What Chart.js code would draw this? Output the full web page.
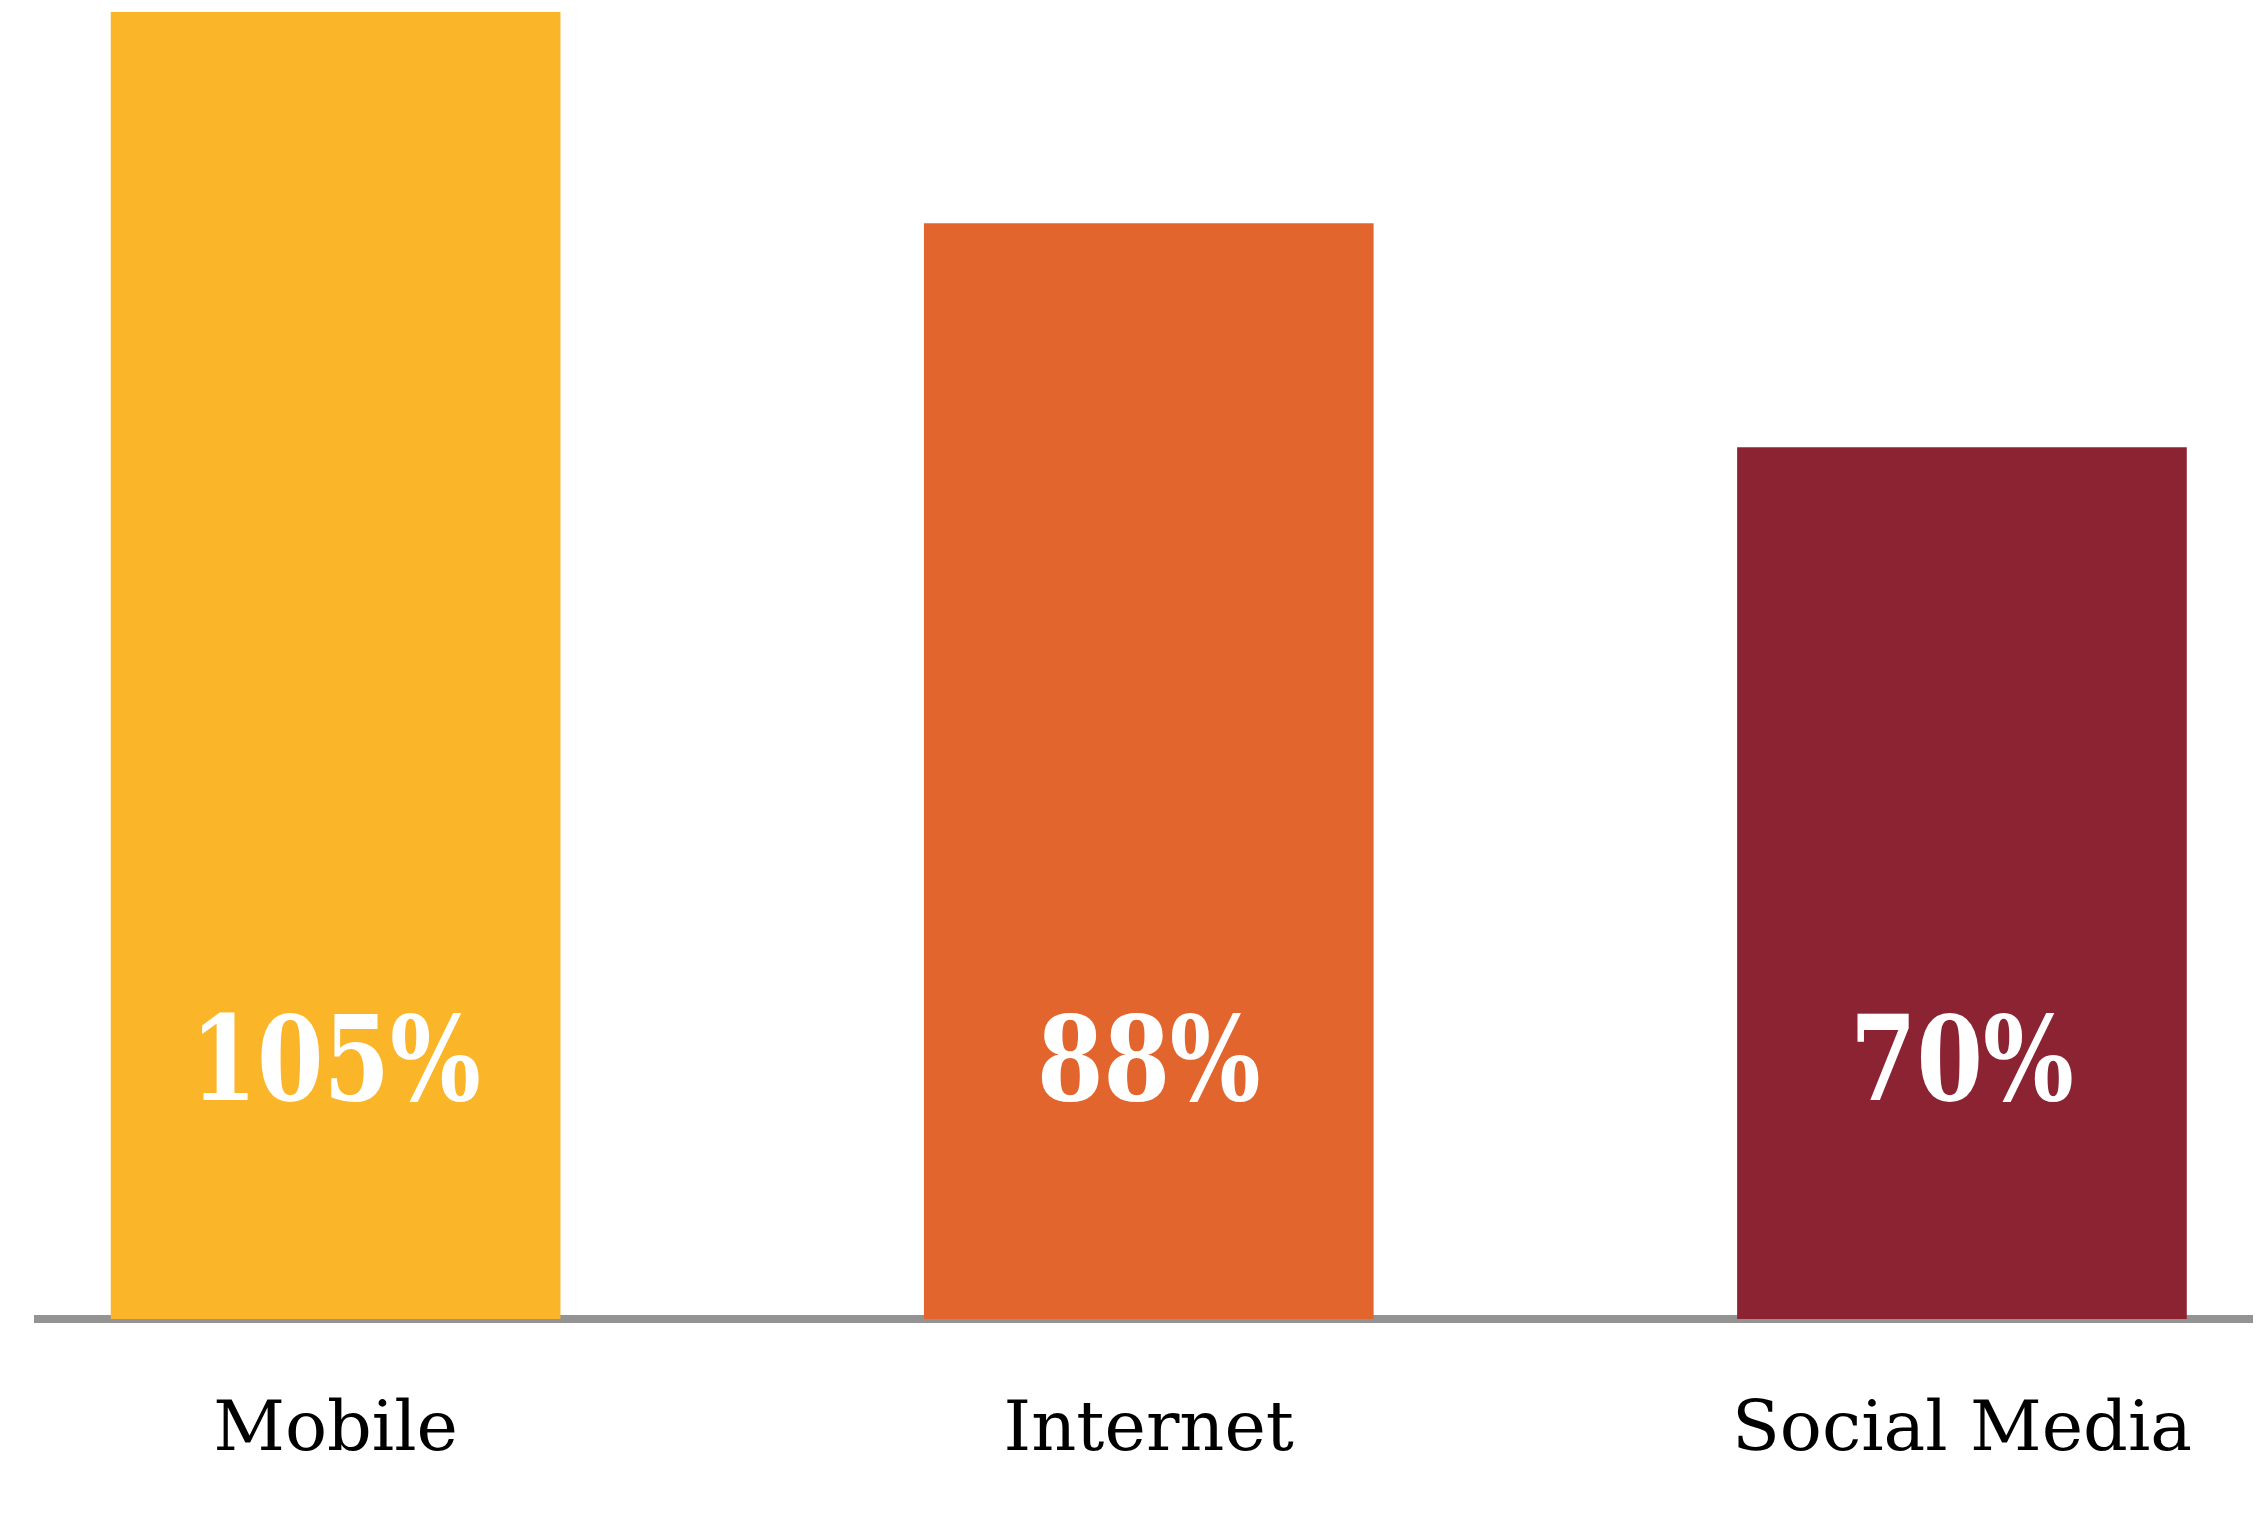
<!DOCTYPE html>
<html>
<head>
<meta charset="utf-8">
<script src="https://cdn.jsdelivr.net/npm/chart.js@4.4.1/dist/chart.umd.min.js"></script>
<style>
  html, body { margin: 0; padding: 0; background: #fff; }
  #wrap { width: 2263px; height: 1516px; }
</style>
</head>
<body>
<div id="wrap"><canvas id="shareChart"></canvas></div>
<script>
const categories = ['Mobile', 'Internet', 'Social Media'];
const values = [105, 88, 70];
const barColors = ['#FBB528', '#E3652E', '#8C2333'];

// value labels sit at a fixed height above the baseline, inside each bar
const valueLabels = {
  id: 'valueLabels',
  afterDatasetsDraw(chart) {
    const ctx = chart.ctx;
    const meta = chart.getDatasetMeta(0);
    const base = chart.scales.y.getPixelForValue(0);
    ctx.save();
    ctx.fillStyle = '#fff';
    ctx.font = 'bold 118px "DejaVu Serif Condensed", "DejaVu Serif", serif';
    ctx.textAlign = 'center';
    ctx.textBaseline = 'middle';
    meta.data.forEach((bar, i) => {
      ctx.save();
      ctx.translate(bar.x, base - 250);
      ctx.scale(0.9, 1);
      ctx.fillText(values[i] + '%', 0, 0);
      ctx.restore();
    });
    ctx.restore();
  }
};

new Chart(document.getElementById('shareChart'), {
  type: 'bar',
  data: {
    datasets: [{
      data: values.map((v, i) => ({ x: i, y: v })),
      backgroundColor: barColors,
      borderWidth: 0,
      barThickness: 449,
    }],
  },
  options: {
    responsive: true,
    maintainAspectRatio: false,
    animation: false,
    layout: { autoPadding: false, padding: { left: 38, right: 0, top: 12, bottom: 38 } },
    plugins: { legend: { display: false }, tooltip: { enabled: false } },
    scales: {
      x: {
        type: 'linear',
        min: -0.366,
        max: 2.357,
        offset: false,
        z: 1,
        grid: { display: false, drawTicks: false },
        border: { display: true, color: '#939393', width: 8 },
        afterFit: (scale) => { scale.height = 159; },
        ticks: {
          stepSize: 1,
          includeBounds: false,
          autoSkip: false,
          maxRotation: 0,
          padding: 71,
          color: '#000',
          font: { family: '"DejaVu Serif", serif', size: 70 },
          callback: (v) => (Number.isInteger(v) && categories[v] !== undefined ? categories[v] : ''),
        },
      },
      y: {
        display: false,
        min: 0,
        max: 105,
      },
    },
  },
  plugins: [valueLabels],
});
</script>
</body>
</html>
